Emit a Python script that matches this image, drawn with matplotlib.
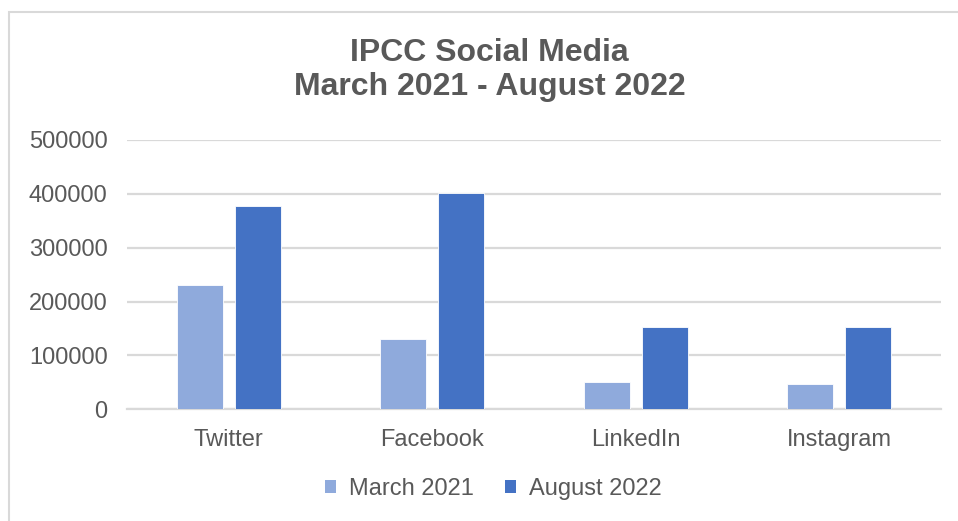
import numpy as np
import matplotlib
matplotlib.use('Agg')
import matplotlib.pyplot as plt
from matplotlib.patches import Rectangle, Patch

# chart values
platforms = ['Twitter', 'Facebook', 'LinkedIn', 'Instagram']
march_2021 = [230000, 130000, 51000, 47000]
august_2022 = [378000, 402000, 152000, 152000]
series_names = ['March 2021', 'August 2022']
y_ticks = [0, 100000, 200000, 300000, 400000, 500000]

light_blue = '#8FAADC'
dark_blue = '#4472C4'
text_grey = '#595959'
grid_grey = '#D9D9D9'

plt.rcParams['font.family'] = ['Liberation Sans', 'DejaVu Sans']

fig = plt.figure(figsize=(9.58, 5.21), dpi=100)
ax = fig.add_axes([0.1326, 0.2144, 0.8497, 0.5169])

x = np.arange(len(platforms))
width = 0.226
offset = 0.1425
ax.bar(x - offset, march_2021, width, color=light_blue, edgecolor='white', linewidth=0.6, zorder=3)
ax.bar(x + offset, august_2022, width, color=dark_blue, edgecolor='white', linewidth=0.6, zorder=3)

ax.set_xlim(-0.5, len(platforms) - 0.5)
ax.set_ylim(0, 500000)
ax.set_yticks(y_ticks)
ax.set_yticklabels([str(v) for v in y_ticks])
ax.set_xticks(x)
ax.set_xticklabels(platforms)
ax.tick_params(axis='both', length=0, colors=text_grey, labelsize=17)
ax.tick_params(axis='y', pad=14)
ax.tick_params(axis='x', pad=14)
ax.grid(axis='y', color=grid_grey, linewidth=1.6, zorder=0)
for side in ['top', 'right', 'left']:
    ax.spines[side].set_visible(False)
ax.spines['bottom'].set_color(grid_grey)
ax.spines['bottom'].set_linewidth(1.6)

fig.text(0.511, 1 - 70 / 521, 'IPCC Social Media\nMarch 2021 - August 2022',
         ha='center', va='center', ma='center', fontsize=23, fontweight='bold',
         color=text_grey, linespacing=1.2)

handles = [Patch(facecolor=light_blue, edgecolor='none'),
           Patch(facecolor=dark_blue, edgecolor='none')]
fig.legend(handles, series_names, loc='center', bbox_to_anchor=(0.515, 1 - 489 / 521),
           ncol=2, frameon=False, fontsize=17, labelcolor=text_grey,
           handlelength=0.45, handleheight=0.45, handletextpad=0.55, columnspacing=1.35)

# light frame of the chart area
fig.patches.append(Rectangle((9 / 958, -0.05), 1.1, 1 - 12 / 521 + 0.05,
                             transform=fig.transFigure, fill=False,
                             edgecolor=grid_grey, linewidth=1.5))

fig.savefig('out.png', dpi=100)
